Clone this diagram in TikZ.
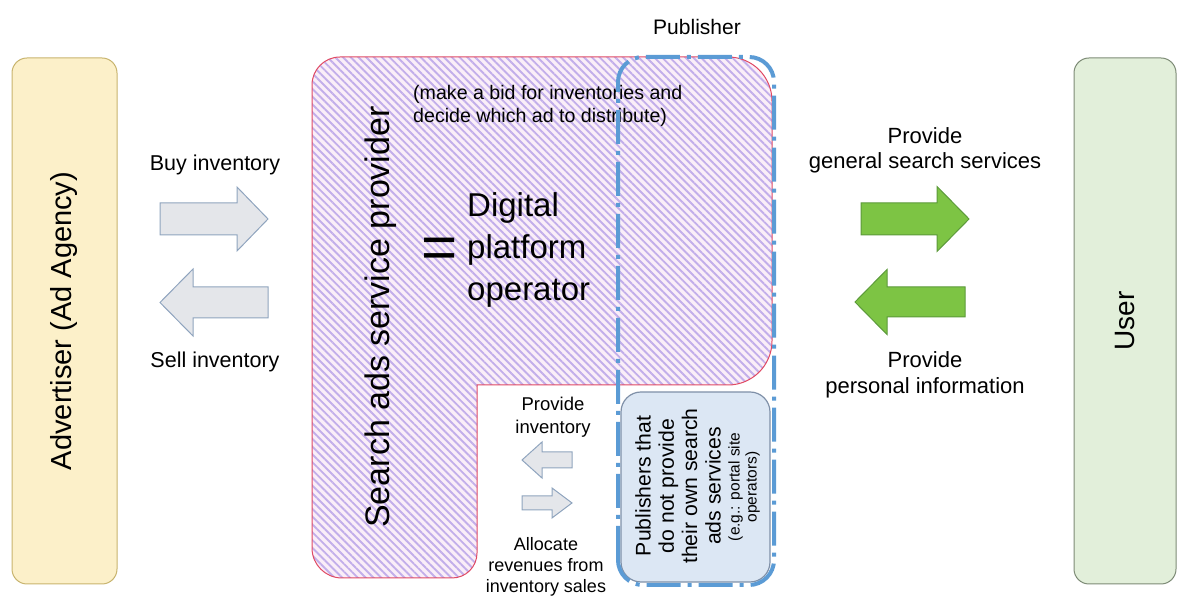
\documentclass[tikz,border=0pt]{standalone}
\usepackage{fontspec}
\setmainfont{Liberation Sans}
\usetikzlibrary{patterns.meta}

\definecolor{advfill}{HTML}{FCF0C9}
\definecolor{advline}{HTML}{C8B46E}
\definecolor{userfill}{HTML}{E2EFDA}
\definecolor{userline}{HTML}{7D8B76}
\definecolor{grayfill}{HTML}{E4E6EA}
\definecolor{grayline}{HTML}{8FA4BE}
\definecolor{greenfill}{HTML}{7DC444}
\definecolor{greenline}{HTML}{5C9A3A}
\definecolor{pinkbase}{HTML}{FAEEF8}
\definecolor{stripe}{HTML}{C2AEEA}
\definecolor{pinkline}{HTML}{E04A64}
\definecolor{pubfill}{HTML}{DCE7F4}
\definecolor{publine}{HTML}{7F90A8}
\definecolor{dashblue}{HTML}{5B9BD5}

\newcommand{\fs}[2]{\fontsize{#1}{#2}\selectfont}
% block arrow: style, tail x, head-base x, tip x, centre y, shaft half-height, head half-height
\newcommand{\blockarrow}[7]{%
  \draw[#1] (#2,#5-#6) -- (#3,#5-#6) -- (#3,#5-#7) -- (#4,#5)
    -- (#3,#5+#7) -- (#3,#5+#6) -- (#2,#5+#6) -- cycle;}

\begin{document}
\begin{tikzpicture}[x=1pt,y=1pt,line join=miter,
  party/.style={draw, rounded corners=15pt, line width=1pt, inner sep=0pt},
  grayarrow/.style={fill=grayfill, draw=grayline, line width=1pt},
  greenarrow/.style={fill=greenfill, draw=greenline, line width=1pt},
  lbl/.style={align=center, inner sep=0pt}]

\useasboundingbox (0,0) rectangle (1178,601);

% advertiser and user columns
\node[party, fill=advfill, draw=advline, minimum width=105pt, minimum height=526pt] (adv) at (64.5,280) {};
\node[rotate=90, inner sep=0pt, font=\fs{29}{34}] (advtxt) at (adv.center) {Advertiser (Ad Agency)};
\node[party, fill=userfill, draw=userline, minimum width=102pt, minimum height=526pt] (user) at (1125,280) {};
\node[rotate=90, inner sep=0pt, font=\fs{28}{34}] (usertxt) at (user.center) {User};

% search ads service provider (L-shaped, hatched)
\path[preaction={fill=pinkbase},
      pattern={Lines[angle=-45, distance=5.5pt, line width=1.9pt]}, pattern color=stripe,
      draw=pinkline, line width=1pt]
  (312,53) -- (312,516) arc[start angle=180, end angle=90, radius=28]
  -- (728,544) arc[start angle=90, end angle=0, radius=44]
  -- (772,260) arc[start angle=0, end angle=-90, radius=44]
  -- (477,216) -- (477,48) arc[start angle=0, end angle=-90, radius=25]
  -- (342,23) arc[start angle=270, end angle=180, radius=30] -- cycle;

\node[rotate=90, inner sep=0pt, font=\fs{34}{40}] (sasp) at (381,284) {Search ads service provider};
\node[inner sep=0pt, font=\fs{62}{62}] (eq) at (440,348) {=};
\node[align=left, anchor=west, inner sep=0pt, font=\fs{33}{42}] (dpo) at (467,351) {Digital\\platform\\operator};
\node[align=left, anchor=west, inner sep=0pt, font=\fs{19.6}{22.5}] (bid) at (413,495)
  {(make a bid for inventories and\\decide which ad to distribute)};

% publishers without their own search ads services
\node[draw=publine, fill=pubfill, rounded corners=20pt, line width=1.2pt, inner sep=0pt,
      minimum width=149pt, minimum height=190pt] (pubbox) at (695.5,114) {};
\node[rotate=90, lbl, font=\fs{21.2}{23.3}] (pubtxt) at (678,115)
  {Publishers that\\do not provide\\their own search\\ads services};
\node[rotate=90, lbl, font=\fs{15.5}{17}] (pubnote) at (744,114) {(e.g.: portal site\\operators)};

% publisher boundary
\draw[dashblue, line width=4pt, rounded corners=25pt,
      dash pattern=on 34pt off 7pt on 4pt off 7pt] (618,16) rectangle (774,544);
\node[inner sep=0pt, font=\fs{21}{25}] (publisher) at (697,574) {Publisher};

% advertiser side flows
\node[inner sep=0pt, font=\fs{21.5}{25}] (buy) at (215,436) {Buy inventory};
\blockarrow{grayarrow}{160}{237}{268}{382}{16}{32}
\blockarrow{grayarrow}{268}{193}{160}{298.5}{15.5}{33.5}
\node[inner sep=0pt, font=\fs{21.5}{25}] (sell) at (215,239) {Sell inventory};

% user side flows
\node[lbl, font=\fs{22}{25.5}] (gss) at (925,450.5) {Provide\\general search services};
\blockarrow{greenarrow}{861}{937}{969}{382}{16}{32.5}
\blockarrow{greenarrow}{965}{887}{855}{299}{15}{32.5}
\node[lbl, font=\fs{22}{25.5}] (pinfo) at (925,226) {Provide\\personal information};

% publisher flows
\node[lbl, font=\fs{18.5}{23}] (pinv) at (553,184) {Provide\\inventory};
\blockarrow{grayarrow}{572}{542}{522}{141}{8}{18}
\blockarrow{grayarrow}{522}{552}{572}{98}{7}{15}
\node[lbl, font=\fs{18}{21}] (alloc) at (546,34) {Allocate\\revenues from\\inventory sales};

\end{tikzpicture}
\end{document}
